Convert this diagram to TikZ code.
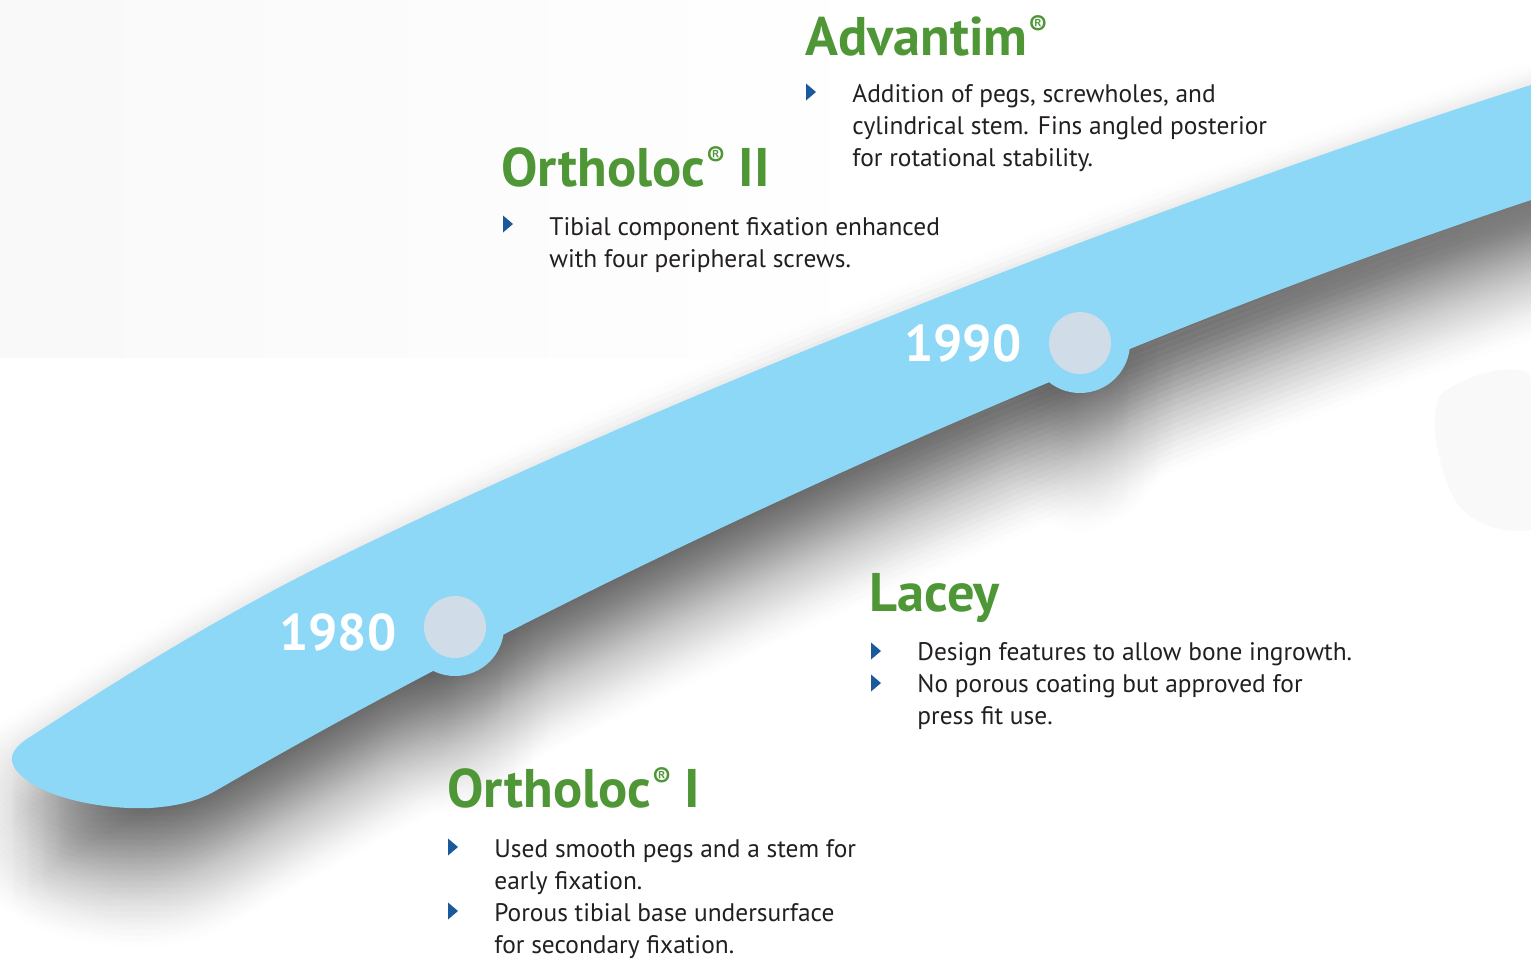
\documentclass[tikz,border=0pt]{standalone}
\usepackage{fontspec}
\setmainfont{PT Sans}
\definecolor{band}{HTML}{8DD8F6}
\definecolor{dot}{HTML}{D0DCE8}
\definecolor{leaf}{HTML}{4E9636}
\definecolor{ink}{HTML}{231F20}
\definecolor{mark}{HTML}{1A5A9C}
\newcommand\regmark{\kern0.02em\raisebox{0.36em}{\scalebox{0.5}{®}}}
% band outline: bottom edge right to left, rounded tip, top edge left to right
\newcommand\bandpath{(1600,177) -- (1531,200)
  .. controls (1131,333) and (617,558) .. (217,790)
  .. controls (200,800) and (180,806) .. (150,808)
  .. controls (110,810) and (40,800) .. (16,770)
  .. controls (6,756) and (15,746) .. (33,735)
  .. controls (80,705) and (200,625) .. (333,560)
  .. controls (700,380) and (1200,190) .. (1531,85)
  -- (1600,64) -- cycle
  (455,627) circle[radius=49]
  (1080,343) circle[radius=50]}
\tikzset{
  body/.style={anchor=base west, inner sep=0pt, text=ink,
    font=\fontsize{12.7}{15}\selectfont},
  head/.style={anchor=base west, inner sep=0pt, text=leaf,
    font=\bfseries\fontsize{27.2}{30}\selectfont},
  year/.style={anchor=base west, inner sep=0pt, text=white,
    font=\bfseries\fontsize{25.8}{30}\selectfont},
  bulletmark/.style={fill=mark},
}
\newcommand\bul[2]{\fill[bulletmark] (#1,#2-8.5) -- (#1+10,#2) -- (#1,#2+8.5) -- cycle;}
\begin{document}
\begin{tikzpicture}[x=0.5pt,y=-0.5pt]
\useasboundingbox[fill=white] (0,0) rectangle (1531,958);
% faint backdrop at the top left and a pale patch on the right
\shade[left color=black!2.5, right color=white] (0,0) rectangle (900,357);
\fill[black!2.5] (1440,395) .. controls (1470,370) and (1531,360) .. (1531,380)
  -- (1531,530) .. controls (1500,535) and (1460,520) .. (1450,490)
  .. controls (1435,450) and (1430,420) .. (1440,395) -- cycle;

% soft drop shadow: faint offset copies of the band, weighted like a blur
\foreach \i in {-3,...,3}{
  \foreach \j in {-11,...,20}{
    \pgfmathsetmacro\op{0.0062*exp(-0.5*((\i*15/35)^2+(\j*6/60)^2))}
    \fill[black, opacity=\op, shift={(\i*15,50+\j*6)}] \bandpath;
  }
}
% the band with its two bumps
\fill[band] \bandpath;
\fill[dot] (455,627) circle[radius=31];
\fill[dot] (1080,343) circle[radius=31];

\node[year] (y1980) at (279,650) {1980};
\node[year] (y1990) at (904,361) {1990};

% Advantim
\node[head] (advh) at (805,55) {Advantim\regmark};
\bul{806}{92}
\node[body] (adv1) at (852,102) {Addition of pegs, screwholes, and};
\node[body] (adv2) at (852,134) {cylindrical stem. Fins angled posterior};
\node[body] (adv3) at (852,166) {for rotational stability.};

% Ortholoc II
\node[head] (o2h) at (501,186) {Ortholoc\regmark{} II};
\bul{503}{224}
\node[body] (o21) at (549,235) {Tibial component fixation enhanced};
\node[body] (o22) at (549,267) {with four peripheral screws.};

% Lacey
\node[head] (lach) at (869,611) {Lacey};
\bul{871}{651}
\node[body] (lac1) at (917,660) {Design features to allow bone ingrowth.};
\bul{871}{683}
\node[body] (lac2) at (917,692) {No porous coating but approved for};
\node[body] (lac3) at (917,724) {press fit use.};

% Ortholoc I
\node[head] (o1h) at (447,807) {Ortholoc\regmark{} I};
\bul{448}{847}
\node[body] (o11) at (494,857) {Used smooth pegs and a stem for};
\node[body] (o12) at (494,889) {early fixation.};
\bul{448}{911}
\node[body] (o13) at (494,921) {Porous tibial base undersurface};
\node[body] (o14) at (494,953) {for secondary fixation.};
\end{tikzpicture}
\end{document}
